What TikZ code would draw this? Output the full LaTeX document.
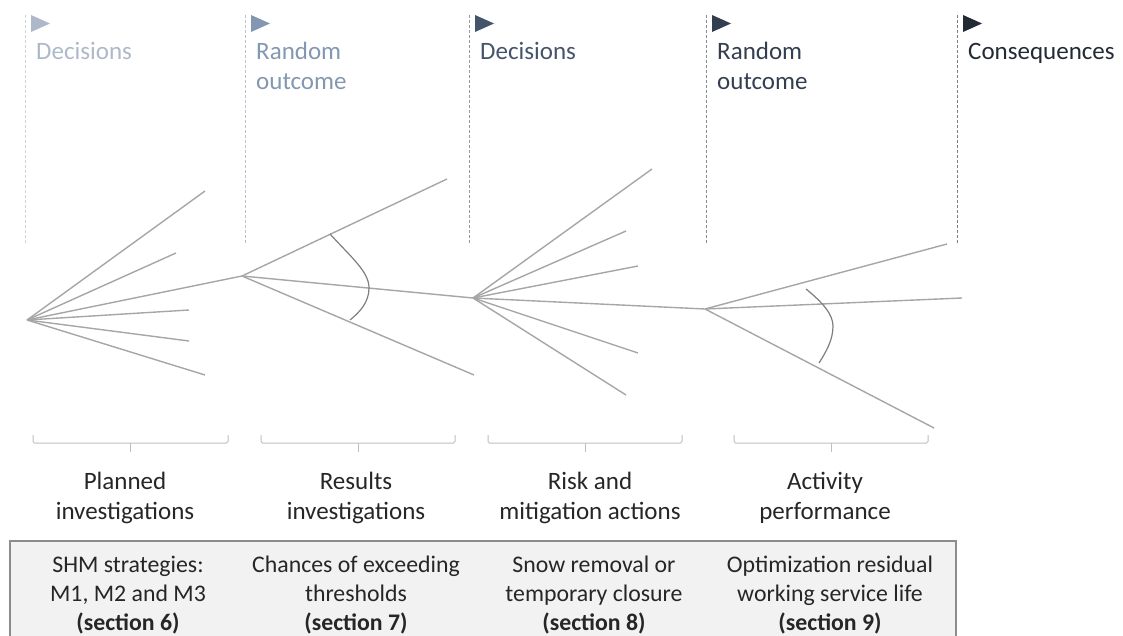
\documentclass[tikz,border=0pt]{standalone}
\usepackage{fontspec}
\setmainfont{Carlito}
\definecolor{stageA}{HTML}{ADB9CA}
\definecolor{stageB}{HTML}{8497B0}
\definecolor{stageC}{HTML}{44546A}
\definecolor{stageD}{HTML}{333F50}
\definecolor{stageE}{HTML}{222A35}
\definecolor{branchgray}{HTML}{A6A6A6}
\definecolor{arcgray}{HTML}{7F7F7F}
\definecolor{boxfill}{HTML}{F2F2F2}
\definecolor{boxline}{HTML}{8C8C8C}
\definecolor{txtgray}{HTML}{262626}
\tikzset{
  bigfont/.style={font=\fontsize{25}{30}\selectfont},
  stagetext/.style={bigfont, anchor=base west, align=left, inner sep=0pt},
  steptext/.style={bigfont, anchor=base, align=center, inner sep=0pt, text=txtgray},
  boxtext/.style={steptext, font=\fontsize{23.8}{29}\selectfont},
  divider/.style={draw=#1, dash pattern={on 3pt off 2pt}, line width=0.8pt},
  branch/.style={draw=branchgray, line width=1.4pt},
  chancearc/.style={draw=arcgray, line width=1.2pt},
  bracket/.style={draw=gray!50, line width=1pt, rounded corners=1.5pt}
}
\begin{document}
\begin{tikzpicture}[x=1pt, y=-1pt]
    \useasboundingbox (0,0) rectangle (1123,636);
    % stage headers (base anchor = last line)
    \foreach \x/\c/\b/\t [count=\i] in {25/stageA/60/Decisions, 245/stageB/90/{Random\\outcome},
        469/stageC/60/Decisions, 706/stageD/90/{Random\\outcome}, 957/stageE/60/Consequences} {
        \draw[divider=\c!60] (\x,15) -- (\x,243);
        \fill[\c] (\x+6,15) -- (\x+6,32) -- (\x+25,23.5) -- cycle;
        \node[stagetext, text=\c] (stage\i) at (\x+11,\b) {\t};
    }
    % decision / chance nodes
    \coordinate (n0) at (27,320);
    \coordinate (n1) at (242,276);
    \coordinate (n2) at (473,298);
    \coordinate (n3) at (705,309);
    \foreach \x/\y [count=\k] in {205/191, 176/253, 189/310, 189/341, 205/375}
        \draw[branch] (n0) -- (\x,\y) coordinate (a\k);
    \foreach \x/\y [count=\k] in {447/179, 474/375}
        \draw[branch] (n1) -- (\x,\y) coordinate (b\k);
    \foreach \x/\y [count=\k] in {652/169, 626/231, 638/266, 638/353, 626/395}
        \draw[branch] (n2) -- (\x,\y) coordinate (c\k);
    \foreach \x/\y [count=\k] in {947/244, 934/428}
        \draw[branch] (n3) -- (\x,\y) coordinate (d\k);
    \coordinate (n4) at (962,298);
    \draw[branch] (n0) -- (n1) -- (n2) -- (n3) -- (n4);
    % probability arcs
    \draw[chancearc] (330,234) .. controls (352,258) and (369,272) .. (369,288)
        .. controls (369,302) and (360,312) .. (350,320);
    \draw[chancearc] (806,289) .. controls (822,302) and (833,314) .. (833,326)
        .. controls (833,340) and (826,352) .. (819,363);
    % brackets
    \foreach \l/\r/\m in {33/228/130, 261/455/358, 488/682/585, 734/928/831} {
        \draw[bracket] (\l,435) -- (\l,443) -- (\r,443) -- (\r,435);
        \draw[bracket] (\m,443) -- (\m,452);
    }
    \node[steptext] (step1) at (125,519) {Planned\\investigations};
    \node[steptext] (step2) at (356,519) {Results\\investigations};
    \node[steptext] (step3) at (590,519) {Risk and\\mitigation actions};
    \node[steptext] (step4) at (825,519) {Activity\\performance};
    % summary box
    \draw[fill=boxfill, draw=boxline, line width=1.5pt] (10,541) rectangle (956,650);
    \node[boxtext] (sec6) at (128,630) {SHM strategies:\\M1, M2 and M3\\\textbf{(section 6)}};
    \node[boxtext] (sec7) at (356,630) {Chances of exceeding\\thresholds\\\textbf{(section 7)}};
    \node[boxtext] (sec8) at (594,630) {Snow removal or\\temporary closure\\\textbf{(section 8)}};
    \node[boxtext] (sec9) at (830,630) {Optimization residual\\working service life\\\textbf{(section 9)}};
\end{tikzpicture}
\end{document}
